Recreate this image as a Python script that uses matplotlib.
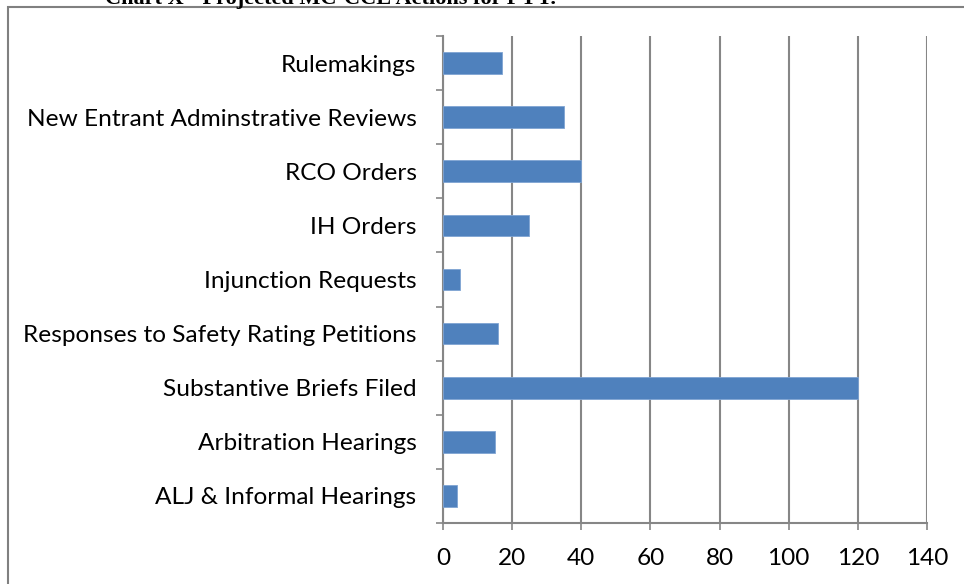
import numpy as np
import matplotlib.pyplot as plt
from matplotlib.patches import Rectangle

categories = ["ALJ & Informal Hearings", "Arbitration Hearings", "Substantive Briefs Filed",
              "Responses to Safety Rating Petitions", "Injunction Requests", "IH Orders",
              "RCO Orders", "New Entrant Adminstrative Reviews", "Rulemakings"]
values = [4, 15, 120, 16, 5, 25, 40, 35, 17]
xticks = [0, 20, 40, 60, 80, 100, 120, 140]
title = "Chart X - Projected MC-CCE Actions for FYY."

grey = "#868686"
plt.rcParams['font.family'] = ['Lato', 'DejaVu Sans']

fig = plt.figure(figsize=(9.64, 5.84), dpi=100)
ax = fig.add_axes([443/964, 1 - 523/584, 484/964, 487/584])

y = np.arange(len(categories))
ax.barh(y, values, height=0.4, color="#4F81BD", edgecolor="#7FA4D3", linewidth=0.6, zorder=3)

ax.set_xlim(0, 140)
ax.set_ylim(-0.5, len(categories) - 0.5)
ax.set_xticks(xticks)
ax.set_xticklabels([str(t) for t in xticks])
ax.set_yticks(y)
ax.set_yticklabels(categories)
ax.set_yticks(np.arange(-0.5, len(categories)), minor=True)

ax.grid(axis='x', color=grey, linewidth=1.5, zorder=1)
for s in ['top', 'right']:
    ax.spines[s].set_visible(False)
for s in ['left', 'bottom']:
    ax.spines[s].set_color(grey)
    ax.spines[s].set_linewidth(1.5)

ax.tick_params(axis='y', which='major', length=0, pad=19, labelsize=17.6)
ax.tick_params(axis='y', which='minor', length=5, width=1.2, color=grey)
ax.tick_params(axis='x', which='major', length=5, width=1.2, color=grey, pad=13, labelsize=17.6)

# outer chart frame
fig.patches.append(Rectangle((8/964, -0.1), 1.2, 1 - 7/584 + 0.1, transform=fig.transFigure,
                             fill=False, edgecolor="#808080", linewidth=1.5))

# title, cut off at the top of the image
fig.text(105/964, 1 - 4/584, title, ha='left', va='baseline', fontsize=16,
         fontweight='bold', family='Liberation Serif')

fig.savefig("out.png", dpi=100)
